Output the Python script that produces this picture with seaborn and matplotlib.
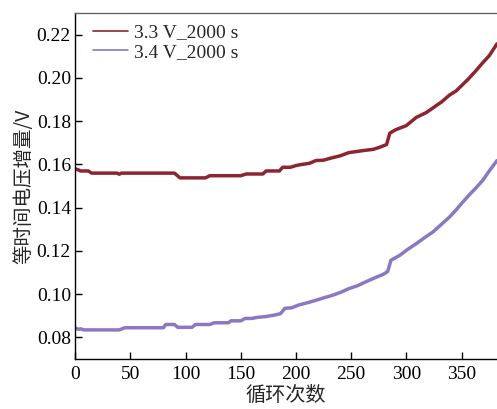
import matplotlib
matplotlib.use("Agg")
import matplotlib.pyplot as plt
import seaborn as sns
import pandas as pd

cycles_a = [0, 3, 5, 12, 15, 38, 40, 42, 90, 95, 118, 122, 150, 155, 170, 173, 185, 188, 195, 200,
            205, 212, 218, 225, 232, 240, 248, 255, 262, 270, 276, 282, 285, 290, 300, 309, 318, 325,
            332, 339, 345, 350, 356, 363, 369, 375, 382]
volt_a = [0.158, 0.1575, 0.157, 0.157, 0.156, 0.156, 0.1555, 0.156, 0.156, 0.1538, 0.1538, 0.1548,
          0.1548, 0.1556, 0.1556, 0.157, 0.157, 0.1587, 0.1587, 0.1595, 0.160, 0.1605, 0.1618, 0.162,
          0.163, 0.164, 0.1655, 0.166, 0.1665, 0.167, 0.168, 0.1692, 0.1745, 0.176, 0.178, 0.1818,
          0.184, 0.1865, 0.189, 0.1921, 0.194, 0.1965, 0.1995, 0.2034, 0.207, 0.2103, 0.2158]

cycles_b = [0, 3, 5, 8, 40, 45, 80, 82, 90, 93, 106, 109, 122, 126, 139, 141, 150, 154, 160, 165,
            173, 180, 186, 190, 196, 203, 210, 218, 225, 233, 241, 248, 256, 263, 271, 279, 283, 286,
            294, 301, 309, 316, 324, 331, 339, 345, 351, 357, 363, 369, 375, 382]
volt_b = [0.0844, 0.0838, 0.084, 0.0835, 0.0835, 0.0845, 0.0845, 0.086, 0.086, 0.0847, 0.0847, 0.086,
          0.086, 0.0868, 0.0868, 0.0877, 0.0877, 0.0888, 0.0888, 0.0893, 0.0897, 0.0903, 0.091, 0.0935,
          0.0937, 0.0951, 0.096, 0.0972, 0.0983, 0.0995, 0.101, 0.1026, 0.104, 0.1057, 0.1075, 0.1092,
          0.1105, 0.1157, 0.118, 0.1207, 0.1234, 0.126, 0.1288, 0.132, 0.1357, 0.139, 0.1426, 0.146,
          0.1492, 0.1526, 0.157, 0.1618]

labels = ["3.3 V_2000 s", "3.4 V_2000 s"]
colors = ["#8B2530", "#8B78C2"]
x_ticks = [0, 50, 100, 150, 200, 250, 300, 350]
y_ticks = [0.08, 0.10, 0.12, 0.14, 0.16, 0.18, 0.20, 0.22]

df = pd.concat([
    pd.DataFrame({"cycle": cycles_a, "v": volt_a, "series": labels[0]}),
    pd.DataFrame({"cycle": cycles_b, "v": volt_b, "series": labels[1]}),
])

sns.set_style("ticks")
plt.rcParams["font.family"] = ["Liberation Serif", "Noto Sans CJK SC"]

fig = plt.figure(figsize=(4.97, 4.09), dpi=100)
ax = fig.add_axes([0.151, 0.122, 0.849, 0.846])
sns.lineplot(data=df, x="cycle", y="v", hue="series", palette=colors, linewidth=2.5,
             ax=ax, sort=False, estimator=None)

ax.set_xlim(0, 382)
ax.set_ylim(0.07, 0.23)
ax.set_xticks(x_ticks)
ax.set_yticks(y_ticks)
ax.set_yticklabels([f"{t:.2f}" for t in y_ticks])
ax.tick_params(direction="in", length=5, width=1, labelsize=14, colors="black")
ax.tick_params(axis="x", pad=5)
ax.tick_params(axis="y", pad=3)
for s in ["left", "bottom"]:
    ax.spines[s].set_color("black")
    ax.spines[s].set_linewidth(1.0)
ax.spines["top"].set_color("#666666")
ax.spines["top"].set_linewidth(1.0)
ax.spines["right"].set_visible(False)

ax.set_xlabel("循环次数", fontsize=14.5, family=["Noto Sans CJK SC"], labelpad=1)
ax.set_ylabel("等时间电压增量/V", fontsize=14, family=["Noto Sans CJK SC"], labelpad=2)

leg = ax.legend(loc="upper left", frameon=False, fontsize=14, handlelength=1.8,
                handletextpad=0.3, borderaxespad=0.15, labelspacing=0.1,
                bbox_to_anchor=(0.018, 1.0))
for line in leg.get_lines():
    line.set_linewidth(1.2)

fig.savefig("out.png", dpi=100)
